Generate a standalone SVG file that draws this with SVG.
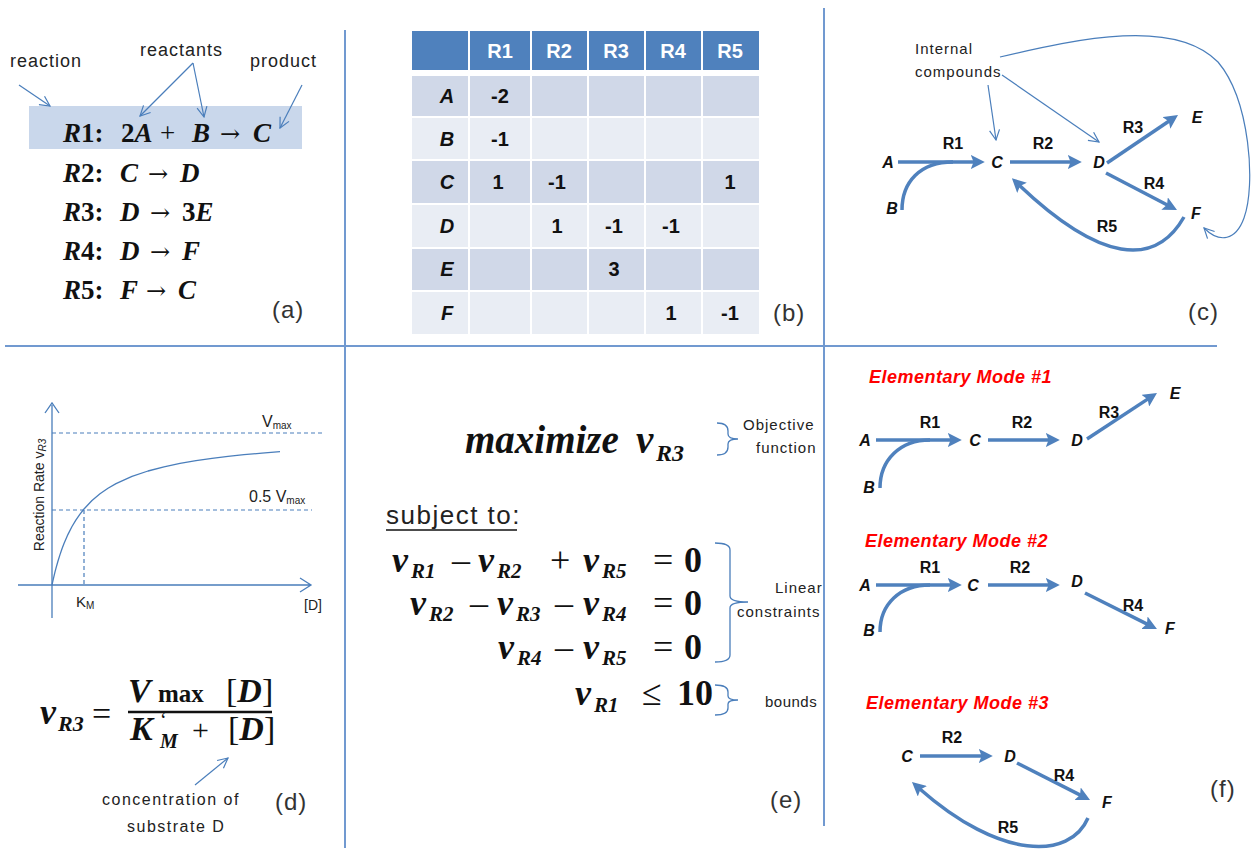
<svg xmlns="http://www.w3.org/2000/svg" width="1252" height="850" viewBox="0 0 1252 850">
<style>
.sans{font-family:"Liberation Sans",Arial,sans-serif;fill:#222}
.lbl{font-family:"Liberation Sans",Arial,sans-serif;fill:#222}
.math{font-family:"Liberation Serif","Times New Roman",serif;font-weight:bold;fill:#111}
.it{font-style:italic}
.up{font-style:normal}
.reg{font-weight:normal}
.arr{font-family:"DejaVu Serif",serif;font-weight:normal;font-style:normal}
.node{font-family:"Liberation Sans",Arial,sans-serif;font-size:16px;font-weight:bold;font-style:italic;fill:#111;text-anchor:middle}
.rl{font-family:"Liberation Sans",Arial,sans-serif;font-size:16px;font-weight:bold;fill:#111;text-anchor:middle}
.thick{fill:none;stroke:#4f81bd;stroke-width:3.5;marker-end:url(#ah)}
.thickn{fill:none;stroke:#4f81bd;stroke-width:3.5}
.thin{fill:none;stroke:#4a7ebb;stroke-width:1.2;marker-end:url(#ta)}
.div{stroke:#7199d0;stroke-width:2}
.th{fill:#4f81bd}
.r1{fill:#d0d8e8}
.r2{fill:#e9edf4}
.hd{font-family:"Liberation Sans",Arial,sans-serif;font-size:20px;font-weight:bold;fill:#fff;text-anchor:middle}
.cv{font-family:"Liberation Sans",Arial,sans-serif;font-size:20px;font-weight:bold;fill:#111;text-anchor:middle}
.em{font-family:"Liberation Sans",Arial,sans-serif;font-size:18px;font-weight:bold;font-style:italic;fill:#ff0000;letter-spacing:0.5px}
.pl{font-family:"Liberation Sans",Arial,sans-serif;font-size:24px;fill:#333;letter-spacing:1px}
.dash{stroke:#4a7ebb;stroke-width:1.2;stroke-dasharray:4 3;fill:none}
.brace{fill:none;stroke:#4a7ebb;stroke-width:1.3}
</style>
<defs>
<marker id="ah" viewBox="0 0 10 10" refX="3" refY="5" markerWidth="4" markerHeight="4" orient="auto">
<path d="M0,0 L10,5 L0,10 L2,5 z" fill="#4f81bd"/>
</marker>
<marker id="ta" viewBox="0 0 12 12" refX="11" refY="6" markerWidth="12" markerHeight="12" markerUnits="userSpaceOnUse" orient="auto">
<path d="M1,1 L11,6 L1,11" fill="none" stroke="#4a7ebb" stroke-width="1.2"/>
</marker>
</defs>
<rect width="1252" height="850" fill="#fff"/>

<g id="dividers">
<line class="div" x1="5" y1="346" x2="1217" y2="346"/>
<line class="div" x1="345" y1="30" x2="345" y2="848"/>
<line class="div" x1="824" y1="8" x2="824" y2="826"/>
</g>

<!-- Panel (a) -->
<g id="panel-a">
<rect x="29" y="106" width="273" height="43" fill="#c9d7eb"/>
<text class="lbl" x="10" y="67" font-size="18" letter-spacing="1">reaction</text>
<text class="lbl" x="140" y="56" font-size="18" letter-spacing="1">reactants</text>
<text class="lbl" x="250" y="67" font-size="18" letter-spacing="1">product</text>
<g class="math" font-size="27">
<text y="142"><tspan x="63" class="it">R</tspan><tspan>1:</tspan><tspan x="121">2</tspan><tspan class="it">A</tspan><tspan x="160" class="reg">+</tspan><tspan x="192" class="it">B</tspan><tspan x="220" class="arr" font-size="24">→</tspan><tspan x="253" class="it">C</tspan></text>
<text y="182"><tspan x="63" class="it">R</tspan><tspan>2:</tspan><tspan x="120" class="it">C</tspan><tspan x="148" class="arr" font-size="24">→</tspan><tspan x="180" class="it">D</tspan></text>
<text y="221"><tspan x="63" class="it">R</tspan><tspan>3:</tspan><tspan x="120" class="it">D</tspan><tspan x="150" class="arr" font-size="24">→</tspan><tspan x="182">3</tspan><tspan class="it">E</tspan></text>
<text y="260"><tspan x="63" class="it">R</tspan><tspan>4:</tspan><tspan x="120" class="it">D</tspan><tspan x="150" class="arr" font-size="24">→</tspan><tspan x="182" class="it">F</tspan></text>
<text y="299"><tspan x="63" class="it">R</tspan><tspan>5:</tspan><tspan x="120" class="it">F</tspan><tspan x="146" class="arr" font-size="24">→</tspan><tspan x="178" class="it">C</tspan></text>
</g>
<text class="pl" x="272" y="318">(a)</text>
</g>

<!-- Panel (a) annotation arrows -->
<g id="a-connectors">
<path class="thin" d="M19,85 L50,106"/>
<path class="thin" d="M193,63 L140,116"/>
<path class="thin" d="M193,63 L204,117"/>
<path class="thin" d="M302,85 L280,128"/>
</g>

<!-- Panel (b) table -->
<g id="panel-b">
<rect class="th" x="412" y="31" width="56" height="39"/>
<rect class="th" x="470" y="31" width="60" height="39"/>
<rect class="th" x="532" y="31" width="55" height="39"/>
<rect class="th" x="589" y="31" width="55" height="39"/>
<rect class="th" x="646" y="31" width="55" height="39"/>
<rect class="th" x="703" y="31" width="56" height="39"/>
<text class="hd" x="500" y="58">R1</text>
<text class="hd" x="559" y="58">R2</text>
<text class="hd" x="616" y="58">R3</text>
<text class="hd" x="673" y="58">R4</text>
<text class="hd" x="730" y="58">R5</text>
<g id="rows">
<g class="r1"><rect x="412" y="76" width="56" height="40"/><rect x="470" y="76" width="60" height="40"/><rect x="532" y="76" width="55" height="40"/><rect x="589" y="76" width="55" height="40"/><rect x="646" y="76" width="55" height="40"/><rect x="703" y="76" width="56" height="40"/></g>
<g class="r2"><rect x="412" y="118" width="56" height="41"/><rect x="470" y="118" width="60" height="41"/><rect x="532" y="118" width="55" height="41"/><rect x="589" y="118" width="55" height="41"/><rect x="646" y="118" width="55" height="41"/><rect x="703" y="118" width="56" height="41"/></g>
<g class="r1"><rect x="412" y="161" width="56" height="42"/><rect x="470" y="161" width="60" height="42"/><rect x="532" y="161" width="55" height="42"/><rect x="589" y="161" width="55" height="42"/><rect x="646" y="161" width="55" height="42"/><rect x="703" y="161" width="56" height="42"/></g>
<g class="r2"><rect x="412" y="205" width="56" height="42"/><rect x="470" y="205" width="60" height="42"/><rect x="532" y="205" width="55" height="42"/><rect x="589" y="205" width="55" height="42"/><rect x="646" y="205" width="55" height="42"/><rect x="703" y="205" width="56" height="42"/></g>
<g class="r1"><rect x="412" y="249" width="56" height="41"/><rect x="470" y="249" width="60" height="41"/><rect x="532" y="249" width="55" height="41"/><rect x="589" y="249" width="55" height="41"/><rect x="646" y="249" width="55" height="41"/><rect x="703" y="249" width="56" height="41"/></g>
<g class="r2"><rect x="412" y="292" width="56" height="42"/><rect x="470" y="292" width="60" height="42"/><rect x="532" y="292" width="55" height="42"/><rect x="589" y="292" width="55" height="42"/><rect x="646" y="292" width="55" height="42"/><rect x="703" y="292" width="56" height="42"/></g>
</g>
<g class="cv">
<text x="447" y="103" font-style="italic">A</text>
<text x="447" y="146" font-style="italic">B</text>
<text x="447" y="189" font-style="italic">C</text>
<text x="447" y="233" font-style="italic">D</text>
<text x="447" y="276" font-style="italic">E</text>
<text x="447" y="320" font-style="italic">F</text>
<text x="500" y="103">-2</text>
<text x="500" y="146">-1</text>
<text x="498" y="189">1</text>
<text x="557" y="189">-1</text>
<text x="730" y="189">1</text>
<text x="557" y="233">1</text>
<text x="614" y="233">-1</text>
<text x="671" y="233">-1</text>
<text x="614" y="276">3</text>
<text x="671" y="320">1</text>
<text x="730" y="320">-1</text>
</g>
<text class="pl" x="773" y="321">(b)</text>
</g>

<!-- Panel (c) -->
<g id="panel-c">
<text class="lbl" x="915" y="54" font-size="15" letter-spacing="1">Internal</text>
<text class="lbl" x="915" y="77" font-size="15" letter-spacing="1">compounds</text>
<g id="c-nodes">
<text class="node" x="888" y="168">A</text>
<text class="node" x="892" y="214">B</text>
<text class="node" x="997" y="168">C</text>
<text class="node" x="1099" y="168">D</text>
<text class="node" x="1197" y="123">E</text>
<text class="node" x="1196" y="219">F</text>
</g>
<g id="c-connectors">
<path class="thick" d="M898,162 L975,162"/>
<path class="thickn" d="M902,210 C902,182 920,162 953,162"/>
<path class="thick" d="M1010,162 L1072,162"/>
<path class="thick" d="M1107,163 L1169.9,120.5"/>
<path class="thick" d="M1106,173 L1168.3,205.5"/>
<path class="thick" d="M1184,217 C1155,268 1100,262 1019,185"/>
<path class="thin" d="M988,85 L996,140"/>
<path class="thin" d="M1002,75 L1099,142"/>
<path class="thin" d="M1000,57 C1080,38 1175,18 1218,62 C1250,100 1256,185 1244,218 C1236,240 1220,244 1204,228"/>
<text class="rl" x="953" y="149">R1</text>
<text class="rl" x="1043" y="149">R2</text>
<text class="rl" x="1133" y="133">R3</text>
<text class="rl" x="1154" y="189">R4</text>
<text class="rl" x="1107" y="232">R5</text>
</g>
<text class="pl" x="1188" y="320">(c)</text>
</g>

<!-- Panel (d) graph -->
<g id="panel-d">
<path d="M52,618 L52,405 M45,413 L52,403 L59,413" fill="none" stroke="#4a7ebb" stroke-width="1.3"/>
<path d="M18,585 L310,585 M300,578 L311,585 L300,592" fill="none" stroke="#4a7ebb" stroke-width="1.3"/>
<line class="dash" x1="52" y1="433" x2="324" y2="433"/>
<line class="dash" x1="52" y1="510" x2="312" y2="510"/>
<line class="dash" x1="84" y1="510" x2="84" y2="585"/>
<polyline points="52,585 52.5,582.66 53,580.39 54,576.06 55,571.97 56,568.11 58,561 60,554.6 62,548.81 64,543.55 68,534.33 72,526.54 76,519.86 80,514.07 84,509 92,500.56 100,493.8 108,488.27 116,483.67 132,476.43 148,471 164,466.78 180,463.4 196,460.64 212,458.4 228,456.38 244,454.71 262,453.1 280,451.62" fill="none" stroke="#4a7ebb" stroke-width="1.3" stroke-linejoin="round"/>
<text class="sans" x="262" y="427" font-size="16" fill="#333">V<tspan font-size="10" dy="2">max</tspan></text>
<text class="sans" x="249" y="502" font-size="16" fill="#333">0.5 V<tspan font-size="10" dy="2">max</tspan></text>
<text class="sans" x="76" y="607" font-size="15" fill="#333">K<tspan font-size="10" dy="2">M</tspan></text>
<text class="sans" x="304" y="610" font-size="14" fill="#333">[D]</text>
<text class="sans" transform="translate(44,495) rotate(-90)" text-anchor="middle" font-size="14" fill="#333">Reaction Rate v<tspan font-size="10" font-style="italic" dy="2">R3</tspan></text>
</g>

<!-- Panel (d) formula -->
<g id="formula-d">
<text class="math" font-size="36"><tspan x="40" y="724" class="it">v</tspan><tspan x="58" y="731" font-size="22" class="it">R3</tspan><tspan x="92" y="725" font-size="34" class="reg">=</tspan></text>
<text class="math" font-size="34"><tspan x="128" y="702" class="it">V</tspan><tspan x="158" y="702" font-size="25">max</tspan><tspan x="226" y="702" class="reg">[</tspan><tspan class="it">D</tspan><tspan class="reg">]</tspan></text>
<text class="math" font-size="34"><tspan x="130" y="740" class="it">K</tspan><tspan x="160" y="727" font-size="20" class="reg">‘</tspan><tspan x="160" y="748" font-size="20" class="it">M</tspan><tspan x="192" y="740" font-size="30" class="reg">+</tspan><tspan x="228" y="740" class="reg">[</tspan><tspan class="it">D</tspan><tspan class="reg">]</tspan></text>
<line x1="128" y1="712" x2="272" y2="712" stroke="#111" stroke-width="2.5"/>
<path class="thin" d="M195,785 L228,758"/>
<text class="lbl" x="102" y="805" font-size="16" letter-spacing="1.5">concentration of</text>
<text class="lbl" x="127" y="832" font-size="16" letter-spacing="1.5">substrate D</text>
<text class="pl" x="275" y="810">(d)</text>
</g>

<!-- Panel (e) -->
<g id="panel-e">
<text class="math it" font-size="39"><tspan x="465" y="453">maximize</tspan><tspan x="636" y="453">v</tspan><tspan x="656" y="461" font-size="24">R3</tspan></text>
<path class="brace" d="M717,423 Q728,423 728,431 L728,434 Q728,439 738,439 Q728,439 728,444 L728,447 Q728,455 717,455"/>
<text class="lbl" x="743" y="430" font-size="15" letter-spacing="1">Objective</text>
<text class="lbl" x="756" y="453" font-size="15" letter-spacing="1">function</text>
<text class="sans" x="386" y="524" font-size="26" letter-spacing="1.5">subject to:</text>
<line x1="386" y1="530" x2="517" y2="530" stroke="#111" stroke-width="1.5"/>
<g class="math" font-size="36">
<text><tspan x="392" y="572" class="it">v</tspan><tspan x="411" y="578" font-size="21" class="it">R1</tspan><tspan x="452" y="572" class="reg">–</tspan><tspan x="478" y="572" class="it">v</tspan><tspan x="497" y="578" font-size="21" class="it">R2</tspan><tspan x="550" y="572" class="reg">+</tspan><tspan x="583" y="572" class="it">v</tspan><tspan x="602" y="578" font-size="21" class="it">R5</tspan><tspan x="653" y="572" class="reg">=</tspan><tspan x="684" y="572">0</tspan></text>
<text><tspan x="410" y="615" class="it">v</tspan><tspan x="429" y="621" font-size="21" class="it">R2</tspan><tspan x="470" y="615" class="reg">–</tspan><tspan x="497" y="615" class="it">v</tspan><tspan x="516" y="621" font-size="21" class="it">R3</tspan><tspan x="555" y="615" class="reg">–</tspan><tspan x="583" y="615" class="it">v</tspan><tspan x="602" y="621" font-size="21" class="it">R4</tspan><tspan x="653" y="615" class="reg">=</tspan><tspan x="684" y="615">0</tspan></text>
<text><tspan x="498" y="659" class="it">v</tspan><tspan x="517" y="665" font-size="21" class="it">R4</tspan><tspan x="555" y="659" class="reg">–</tspan><tspan x="583" y="659" class="it">v</tspan><tspan x="602" y="665" font-size="21" class="it">R5</tspan><tspan x="653" y="659" class="reg">=</tspan><tspan x="684" y="659">0</tspan></text>
<text><tspan x="575" y="705" class="it">v</tspan><tspan x="594" y="712" font-size="21" class="it">R1</tspan><tspan x="642" y="705" class="reg">≤</tspan><tspan x="677" y="705">10</tspan></text>
</g>
<path class="brace" d="M715,543 Q730,543 730,550 L730,596 Q730,602 748,602 Q730,602 730,608 L730,655 Q730,662 715,662"/>
<text class="lbl" x="775" y="593" font-size="15" letter-spacing="1">Linear</text>
<text class="lbl" x="737" y="617" font-size="15" letter-spacing="1">constraints</text>
<path class="brace" d="M715,685 Q728,685 728,692 L728,696 Q728,700 738,700 Q728,700 728,704 L728,708 Q728,715 715,715"/>
<text class="lbl" x="765" y="707" font-size="15" letter-spacing="0.5">bounds</text>
<text class="pl" x="770" y="808">(e)</text>
</g>

<!-- Panel (f) -->
<g id="mode-1">
<text class="em" x="869" y="383">Elementary Mode #1</text>
<text class="node" x="865" y="446">A</text>
<text class="node" x="869" y="493">B</text>
<text class="node" x="975" y="446">C</text>
<text class="node" x="1077" y="446">D</text>
<text class="node" x="1175" y="399">E</text>
<g class="m1-connectors">
<path class="thick" d="M876,440 L952,440"/>
<path class="thickn" d="M880,488 C880,460 900,440 930,440"/>
<path class="thick" d="M988,440 L1050,440"/>
<path class="thick" d="M1087,439 L1148.8,398.4"/>
</g>
<text class="rl" x="930" y="428">R1</text>
<text class="rl" x="1022" y="428">R2</text>
<text class="rl" x="1109" y="418">R3</text>
</g>
<g id="mode-2">
<text class="em" x="865" y="547">Elementary Mode #2</text>
<text class="node" x="865" y="591">A</text>
<text class="node" x="869" y="636">B</text>
<text class="node" x="973" y="591">C</text>
<text class="node" x="1077" y="587">D</text>
<text class="node" x="1170" y="634">F</text>
<g class="m2-connectors">
<path class="thick" d="M876,585 L952,585"/>
<path class="thickn" d="M880,632 C880,604 900,585 930,585"/>
<path class="thick" d="M988,585 L1050,585"/>
<path class="thick" d="M1085,593 L1148.2,624.6"/>
</g>
<text class="rl" x="930" y="573">R1</text>
<text class="rl" x="1020" y="573">R2</text>
<text class="rl" x="1133" y="611">R4</text>
</g>
<g id="mode-3">
<text class="em" x="866" y="709">Elementary Mode #3</text>
<text class="node" x="907" y="762">C</text>
<text class="node" x="1010" y="762">D</text>
<text class="node" x="1107" y="808">F</text>
<g class="m3-connectors">
<path class="thick" d="M920,756 L983,756"/>
<path class="thick" d="M1017,763 L1081.3,795.6"/>
<path class="thick" d="M1088,818 C1070,860 1000,860 919.3,788.5"/>
</g>
<text class="rl" x="952" y="743">R2</text>
<text class="rl" x="1064" y="781">R4</text>
<text class="rl" x="1008" y="833">R5</text>
<text class="pl" x="1210" y="797">(f)</text>
</g>
</svg>
